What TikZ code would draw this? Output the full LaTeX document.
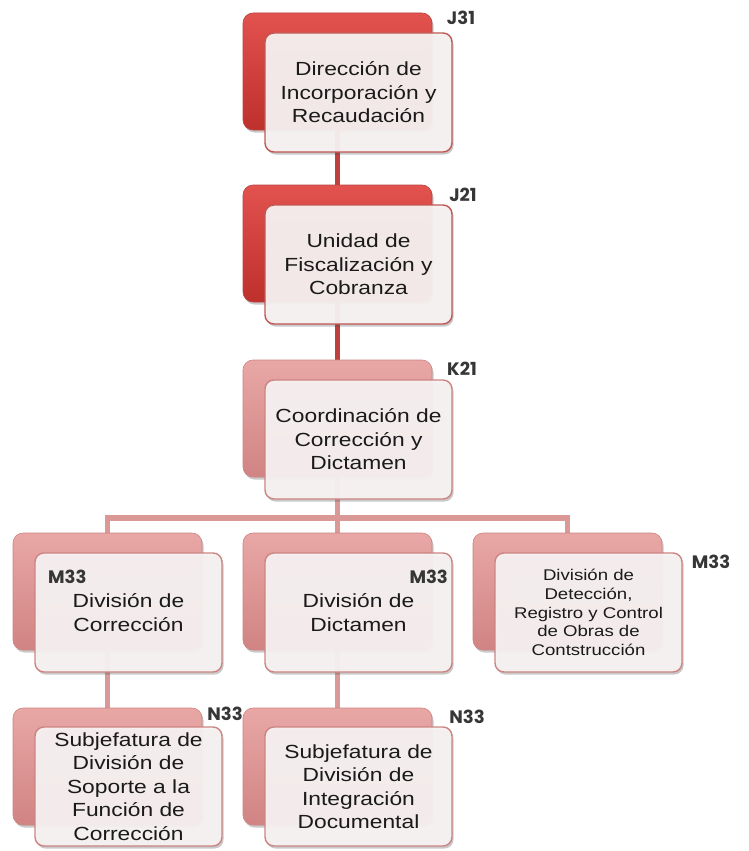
\documentclass[tikz,border=0pt]{standalone}
\usepackage{fontspec}
\usetikzlibrary{shadows}
\newfontfamily\boxfont[FakeStretch=1.2]{Liberation Sans}
\newfontfamily\labfont{Poppins}
\definecolor{redtop}{HTML}{E2524F}
\definecolor{redbot}{HTML}{BE302C}
\definecolor{redline}{HTML}{C0403D}
\definecolor{redborder}{HTML}{B84440}
\definecolor{pinktop}{HTML}{E8A7A5}
\definecolor{pinkbot}{HTML}{D08483}
\definecolor{pinkborder}{HTML}{CC8482}
\definecolor{pinkline}{HTML}{DA9997}
\definecolor{frontfill}{HTML}{F8F3F3}
\definecolor{txt}{HTML}{1A1A1A}
\definecolor{labc}{HTML}{363636}
\tikzset{
  x=1pt, y=-1pt,
  boxshadow/.style={drop shadow={shadow xshift=1.5pt,shadow yshift=-2.5pt,opacity=0.3,fill=black!70}},
  backbox/.style={rectangle, rounded corners=10pt, minimum width=189pt, minimum height=117pt, boxshadow, line width=0.6pt},
  backred/.style={backbox, draw=redborder, top color=redtop, bottom color=redbot},
  backpink/.style={backbox, draw=pinkborder, top color=pinktop, bottom color=pinkbot},
  frontbox/.style={rectangle, rounded corners=9pt, minimum width=187pt, minimum height=119pt,
     fill=frontfill, fill opacity=0.94, text opacity=1, line width=1.4pt, boxshadow,
     align=center, text=txt, font=\boxfont\fontsize{19}{23.5}\selectfont, inner sep=0pt},
  frontred/.style={frontbox, draw=redborder!90},
  frontpink/.style={frontbox, draw=pinkborder},
  conred/.style={draw=redline, line width=5.5pt},
  conpink/.style={draw=pinkline, line width=5.5pt},
  lab/.style={font=\labfont\bfseries\fontsize{18}{20}\selectfont, text=labc, inner sep=0pt}
}
\begin{document}
\begin{tikzpicture}
\useasboundingbox (0,0) rectangle (749,851);
\coordinate (c1) at (337.5,71.5);
\coordinate (c2) at (337.5,243.5);
\coordinate (c3) at (337.5,418.5);
\coordinate (cA) at (107.5,591.5);
\coordinate (cB) at (337.5,591.5);
\coordinate (cC) at (567.5,591.5);
\coordinate (cD) at (107.5,766.5);
\coordinate (cE) at (337.5,766.5);
\coordinate (j) at (337.5,518);
% connectors
\draw[conred] (c1) -- (c2);
\draw[conred] (c2) -- (c3);
\draw[conpink] (c3) -- (j);
\draw[conpink, line cap=rect] (cA) -- (cA |- j) -- (cC |- j) -- (cC);
\draw[conpink] (j) -- (cB);
\draw[conpink] (cA) -- (cD);
\draw[conpink] (cB) -- (cE);
% level 1
\node[backred] (b1) at (c1) {};
\node[frontred] (f1) at (358.5,92.5) {Dirección de\\Incorporación y\\Recaudación};
\node[lab] (l1) at (461,18) {J31};
% level 2
\node[backred] (b2) at (c2) {};
\node[frontred] (f2) at (358.5,264.5) {Unidad de\\Fiscalización y\\Cobranza};
\node[lab] (l2) at (463,195) {J21};
% level 3
\node[backpink] (b3) at (c3) {};
\node[frontpink] (f3) at (358.5,439.5) {Coordinación de\\Corrección y\\Dictamen};
\node[lab] (l3) at (462,369) {K21};
% level 4
\node[backpink] (bA) at (cA) {};
\node[frontpink] (fA) at (128.5,612.5) {División de\\Corrección};
\node[lab, anchor=west] (lA) at (48,577) {M33};
\node[backpink] (bB) at (cB) {};
\node[frontpink] (fB) at (358.5,612.5) {División de\\Dictamen};
\node[lab, anchor=east] (lB) at (448,577) {M33};
\node[backpink] (bC) at (cC) {};
\node[frontpink, font=\boxfont\fontsize{15.5}{18.8}\selectfont] (fC) at (588.5,612.5) {División de\\Detección,\\Registro y Control\\de Obras de\\Contstrucción};
\node[lab] (lC) at (711,562) {M33};
% level 5
\node[backpink] (bD) at (cD) {};
\node[frontpink] (fD) at (128.5,786.5) {Subjefatura de\\División de\\Soporte a la\\Función de\\Corrección};
\node[lab] (lD) at (225,714) {N33};
\node[backpink] (bE) at (cE) {};
\node[frontpink] (fE) at (358.5,786.5) {Subjefatura de\\División de\\Integración\\Documental};
\node[lab] (lE) at (467,717) {N33};
\end{tikzpicture}
\end{document}
